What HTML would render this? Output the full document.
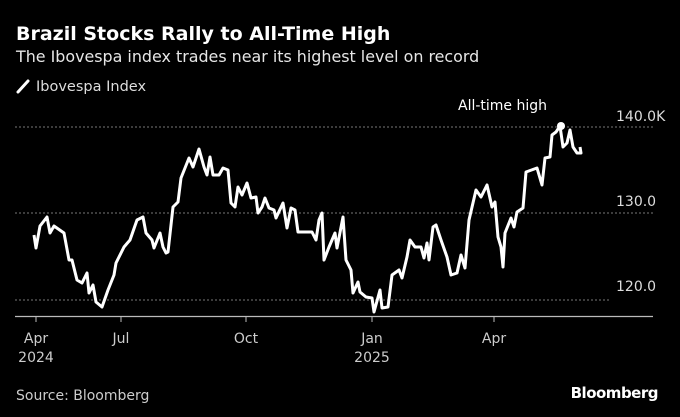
<!DOCTYPE html>
<html><head><meta charset="utf-8"><style>
html,body{margin:0;padding:0;background:#000;width:680px;height:417px;overflow:hidden}
svg{display:block}
text{font-family:"DejaVu Sans","Liberation Sans",sans-serif}
</style></head><body>
<svg width="680" height="417" viewBox="0 0 680 417">
<rect width="680" height="417" fill="#000"/>
<text x="16" y="40" fill="#fff" font-size="19" font-weight="bold">Brazil Stocks Rally to All-Time High</text>
<text x="16" y="62" fill="#e6e6e6" font-size="15.9">The Ibovespa index trades near its highest level on record</text>
<line x1="18" y1="92" x2="28" y2="81" stroke="#fff" stroke-width="3" stroke-linecap="round"/>
<text x="36" y="91" fill="#ddd" font-size="14.5">Ibovespa Index</text>
<g stroke="#777" stroke-width="1" stroke-dasharray="2,2">
<line x1="15" y1="127" x2="653" y2="127"/>
<line x1="15" y1="213" x2="653" y2="213"/>
<line x1="15" y1="300" x2="610" y2="300"/>
</g>
<g fill="#ddd" font-size="14">
<text x="616" y="121">140.0K</text>
<text x="616" y="206">130.0</text>
<text x="616" y="291">120.0</text>
<text x="458" y="110" fill="#fff">All-time high</text>
</g>
<line x1="15" y1="316.5" x2="653" y2="316.5" stroke="#bbb" stroke-width="1.2"/>
<g stroke="#bbb" stroke-width="1">
<line x1="36" y1="316" x2="36" y2="322"/><line x1="121" y1="316" x2="121" y2="322"/>
<line x1="246" y1="316" x2="246" y2="322"/><line x1="372" y1="316" x2="372" y2="322"/>
<line x1="494" y1="316" x2="494" y2="322"/>
</g>
<g fill="#ccc" font-size="14" text-anchor="middle">
<text x="36" y="343">Apr</text><text x="36" y="362">2024</text>
<text x="121" y="343">Jul</text><text x="246" y="343">Oct</text>
<text x="372" y="343">Jan</text><text x="372" y="362">2025</text>
<text x="494" y="343">Apr</text>
</g>
<text x="16" y="400" fill="#ccc" font-size="14">Source: Bloomberg</text>
<text x="658" y="398" fill="#fff" font-size="15" font-weight="bold" text-anchor="end" letter-spacing="-0.5">Bloomberg</text>
<polyline fill="none" stroke="#fff" stroke-width="3" stroke-linejoin="round" points="34,235 36,248 40,226 47,217 50,233 54,226 64,233 69,260 72,260 77,280 82,283 87,273 89,293 93,285 96,302 102,307 108,290 114,275 116,263 124,247 130,240 137,220 143,217 146,233 152,240 154,248 160,233 163,247 166,253 168,252 173,207 178,202 181,178 189,158 193,167 199,149 204,167 207,175 210,157 213,175 219,175 223,168 228,170 231,203 235,207 238,187 242,195 247,183 251,198 256,197 258,213 262,207 265,198 269,208 274,210 276,218 283,203 287,228 291,208 295,210 298,232 312,232 316,240 319,220 322,213 324,260 329,247 335,233 337,248 343,217 346,260 351,270 353,293 358,282 360,292 366,297 372,298 374,312 380,290 382,308 388,307 392,275 399,270 402,278 407,257 410,240 415,247 421,247 424,258 427,243 429,260 433,227 436,225 441,240 447,257 451,275 457,273 461,255 465,268 469,220 476,190 481,197 487,185 492,207 495,202 498,237 501,247 503,267 505,233 511,218 514,227 517,212 523,208 526,172 537,168 542,185 545,158 550,157 552,135 556,132 560,126 563,147 567,143 570,130 573,147 577,153 581,153 580,147"/>
<circle cx="561" cy="126" r="4" fill="#fff"/>
</svg>
</body></html>
